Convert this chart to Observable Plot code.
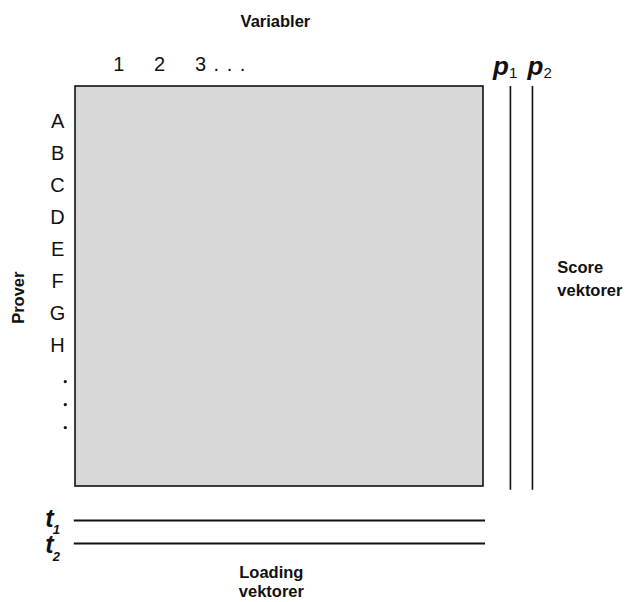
<!DOCTYPE html>
<html>
<head>
<meta charset="utf-8">
<script src="https://cdn.jsdelivr.net/npm/d3@7"></script>
<script src="https://cdn.jsdelivr.net/npm/@observablehq/plot@0.6"></script>
<style>
  html, body { margin: 0; padding: 0; background: #fff; }
  svg { display: block; }
  .vars text { letter-spacing: 1px; }
</style>
</head>
<body>
<div id="chart"></div>
<script>
// ---- content (labels only) ----
const title = "Variabler";
const rowAxisLabel = "Prover";
const variables = ["1", "2", "3 . . ."];
const samples = ["A", "B", "C", "D", "E", "F", "G", "H"];
const moreSamples = [".", ".", "."];
const columnVectorNames = ["p", "p"];
const columnVectorSubs = ["1", "2"];
const rowVectorNames = ["t", "t"];
const rowVectorSubs = ["1", "2"];
const columnVectorLabel = ["Score", "vektorer"];
const rowVectorLabel = ["Loading", "vektorer"];

// ---- layout (diagram units: 1 column / 1 row of the data matrix) ----
const W = 630, H = 602;
const nCols = 10, nRows = 12.5;
const colW = 40.8, rowH = 32;
const padLeft = 75, padTop = 86;
const font = "Liberation Sans, Arial, Helvetica, sans-serif";

const colVecX = (i) => nCols + 0.66 + i * 0.54;    // vertical vector lines
const colVecLabelX = (i) => nCols + 0.43 + i * 0.84; // their labels
const rowVecY = (i) => nRows + 1.06 + i * 0.72;    // horizontal vector lines
const rowY = (i) => i + 1.1;                        // sample rows

const chart = Plot.plot({
  width: W,
  height: H,
  margin: 0,
  style: { fontFamily: font, background: "#fff" },
  x: { type: "linear", domain: [-padLeft / colW, (W - padLeft) / colW], range: [0, W], axis: null },
  y: { type: "linear", domain: [-padTop / rowH, (H - padTop) / rowH], range: [0, H], axis: null },
  marks: [
    // data matrix
    Plot.rect([{}], { x1: 0, x2: nCols, y1: 0, y2: nRows, fill: "#d8d8d8", stroke: "#111", strokeWidth: 1.6 }),
    // column (score) vectors
    Plot.ruleX(columnVectorSubs, { x: (d, i) => colVecX(i), y1: 0, y2: nRows + 0.12, stroke: "#111", strokeWidth: 1.6 }),
    Plot.text(columnVectorNames, { x: (d, i) => colVecLabelX(i), y: -0.62, text: d => d, fontSize: 26, fontWeight: "bold", fontStyle: "italic", fill: "#111" }),
    Plot.text(columnVectorSubs, { x: (d, i) => colVecLabelX(i) + 0.3, y: -0.42, text: d => d, fontSize: 15, fill: "#111" }),
    // row (loading) vectors
    Plot.ruleY(rowVectorSubs, { y: (d, i) => rowVecY(i), x1: -0.03, x2: nCols + 0.05, stroke: "#111", strokeWidth: 2 }),
    Plot.text(rowVectorNames, { x: -0.64, y: (d, i) => rowVecY(i) + (i ? 0.06 : -0.05), text: d => d, fontSize: 25, fontWeight: "bold", fontStyle: "italic", fill: "#111" }),
    Plot.text(rowVectorSubs, { x: -0.47, y: (d, i) => rowVecY(i) + 0.3 + (i ? 0.12 : 0), text: d => d, fontSize: 13, fontStyle: "italic", fontWeight: "bold", fill: "#111" }),
    // variable labels
    Plot.text(variables, { x: (d, i) => i + 1, y: -0.7, text: d => d, textAnchor: "start", dx: -3, fontSize: 20, fill: "#111", className: "vars" }),
    // sample labels
    Plot.text(samples, { x: -0.44, y: (d, i) => rowY(i), text: d => d, fontSize: 20, fill: "#111" }),
    Plot.dot(moreSamples, { x: -0.25, y: (d, i) => 8.5 + 0.72 * (i + 1), r: 1.6, fill: "#111", stroke: null }),
    // titles
    Plot.text([title], { x: nCols / 2 - 0.1, y: -2.03, text: d => d, fontSize: 16.5, fontWeight: "bold", fill: "#111" }),
    Plot.text([rowAxisLabel], { x: -1.4, y: 6.6, text: d => d, rotate: -90, fontSize: 16.5, fontWeight: "bold", fill: "#111" }),
    Plot.text(columnVectorLabel, { x: 11.81, y: (d, i) => 5.66 + i * 0.72, text: d => d, textAnchor: "start", fontSize: 16.5, fontWeight: "bold", fill: "#111" }),
    Plot.text(rowVectorLabel, { x: 4.8, y: (d, i) => 15.2 + i * 0.6, text: d => d, fontSize: 16.5, fontWeight: "bold", fill: "#111" })
  ]
});
document.getElementById("chart").appendChild(chart);
</script>
</body>
</html>
